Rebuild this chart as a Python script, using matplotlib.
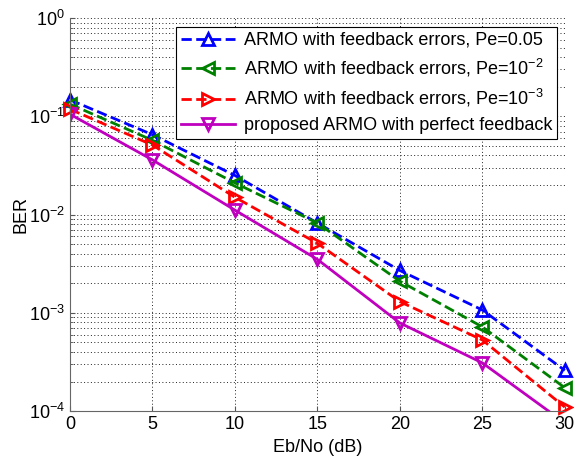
import numpy as np
import matplotlib.pyplot as plt

plt.rcParams['font.family'] = ['Liberation Sans', 'DejaVu Sans']
plt.rcParams['mathtext.fontset'] = 'custom'
plt.rcParams['mathtext.rm'] = 'Liberation Sans'

snr = [0, 5, 10, 15, 20, 25, 30]
ber_pe005 = [0.147, 0.065, 0.025, 0.0082, 0.0027, 0.00107, 0.00026]
ber_pe1e2 = [0.133, 0.057, 0.021, 0.0082, 0.0021, 0.00072, 0.000173]
ber_pe1e3 = [0.118, 0.051, 0.015, 0.0051, 0.0013, 0.00053, 0.00011]
ber_perfect = [0.105, 0.036, 0.0111, 0.0035, 0.00079, 0.00031, 0.000076]

labels = ['ARMO with feedback errors, Pe=0.05',
          'ARMO with feedback errors, Pe=10$^{-2}$',
          'ARMO with feedback errors, Pe=10$^{-3}$',
          'proposed ARMO with perfect feedback']

fig = plt.figure(figsize=(5.74, 4.62), dpi=100)
ax = fig.add_axes([0.122, 0.110, 0.862, 0.851])

# markers at the edges stick out of the axes like in matlab
ax.semilogy(snr, ber_pe005, '--', color='b', marker='^', mfc='none', mew=2, ms=9, lw=2,
            label=labels[0], clip_on=False)
ax.semilogy(snr, ber_pe1e2, '--', color='g', marker='<', mfc='none', mew=2, ms=9, lw=2,
            label=labels[1], clip_on=False)
ax.semilogy(snr, ber_pe1e3, '--', color='r', marker='>', mfc='none', mew=2, ms=9, lw=2,
            label=labels[2], clip_on=False)
ax.semilogy(snr, ber_perfect, '-', color='m', marker='v', mfc='none', mew=2, ms=9, lw=2,
            label=labels[3])

ax.set_xlim(0, 30)
ax.set_ylim(1e-4, 1)
ax.set_xticks([0, 5, 10, 15, 20, 25, 30])
ax.set_xlabel('Eb/No (dB)', fontsize=13)
ax.set_ylabel('BER', fontsize=13, labelpad=0)

ax.grid(True, which='major', linestyle=(0, (1, 2.5)), color='#222222', lw=0.7)
ax.grid(True, which='minor', axis='y', linestyle=(0, (1, 2.5)), color='#222222', lw=0.7)
ax.tick_params(which='both', direction='in', labelsize=13, colors='#555555', labelcolor='black')
for s in ['top', 'right']:
    ax.spines[s].set_visible(False)
for s in ['left', 'bottom']:
    ax.spines[s].set_color('#666666')

leg = ax.legend(loc='upper right', fontsize=13, fancybox=False, framealpha=1,
                edgecolor='black', handlelength=3.0, borderpad=0.25, labelspacing=0.45,
                handletextpad=0.5, borderaxespad=0.3, bbox_to_anchor=(0.995, 0.99))
leg.get_frame().set_linewidth(0.8)
leg.set_zorder(5)

fig.savefig('out.png', dpi=100)
